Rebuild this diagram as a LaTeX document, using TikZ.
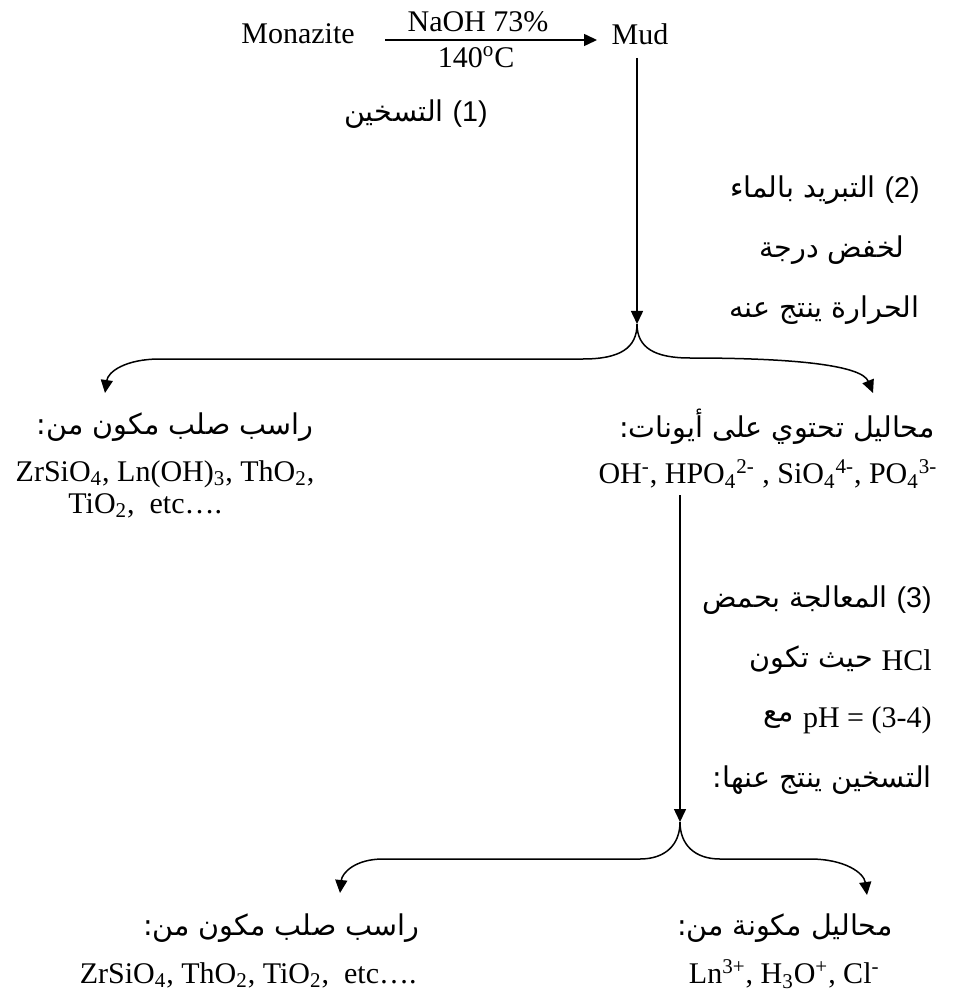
\documentclass[tikz,border=0pt]{standalone}
\usepackage{fontspec}
\setmainfont{Liberation Serif}
\newfontfamily\arabicfont[Script=Arabic]{DejaVu Sans}
\newfontfamily\numfont{Liberation Sans}
\TeXXeTstate=1
\usetikzlibrary{arrows.meta}
\newcommand\mylat{\rmfamily\fontsize{15}{17}\selectfont}
\newcommand\myar{\arabicfont\fontsize{14.3}{16}\selectfont}
\newcommand\mynum{\numfont\fontsize{14.3}{16}\selectfont}
\begin{document}
\begin{tikzpicture}[x=0.5pt,y=-0.5pt,
  lat/.style={inner sep=0pt, font=\mylat},
  ar/.style={inner sep=0pt, font=\myar},
  num/.style={inner sep=0pt, font=\mynum},
  arr/.style={line width=0.75pt, -{Triangle[length=6.5pt,width=6pt]}},
  br/.style={line width=0.75pt, -{Triangle[length=6.5pt,width=6pt]}}]
\useasboundingbox (0,0) rectangle (960,994);
% top reaction
\node[lat] (mon) at (298,34) {Monazite};
\node[lat] (naoh) at (478,22) {NaOH 73\%};
\node[lat] (temp) at (476,57) {140\textsuperscript{o}C};
\node[lat] (mud) at (640,34) {Mud};
\coordinate (a1) at (385,40);
\coordinate (a2) at (597,40);
\draw[arr] (a1) -- (a2);
\node[num,anchor=east] (s1n) at (488,114) {(1)};
\node[ar,anchor=east] (s1) at ([xshift=-4pt]s1n.west) {\beginR التسخين\endR};
% first vertical
\coordinate (v1s) at (637,58);
\coordinate (j1) at (637,324);
\draw[arr] (v1s) -- (j1);
\node[num,anchor=east] (s2n) at (920,190) {(2)};
\node[ar,anchor=east] (s2a) at ([xshift=-4pt]s2n.west) {\beginR التبريد بالماء\endR};
\node[ar,anchor=east] (s2b) at (905,250) {\beginR لخفض درجة\endR};
\node[ar,anchor=east] (s2c) at (920,310) {\beginR الحرارة ينتج عنه\endR};
% first split
\coordinate (t1l) at (105,393);
\coordinate (t1r) at (873,393);
\draw[br] (j1) .. controls (637,348) and (620,359) .. (583,359) -- (160,359)
   .. controls (125,359) and (108,372) .. (t1l);
\draw[br] (j1) .. controls (637,348) and (655,358) .. (690,358)
   .. controls (800,358) and (862,366) .. (t1r);
% left product 1
\node[ar] (p1a) at (175,427) {\beginR راسب صلب مكون من:\endR};
\node[lat] (p1b) at (165,474) {ZrSiO\textsubscript{4}, Ln(OH)\textsubscript{3}, ThO\textsubscript{2},};
\node[lat,anchor=west] (p1c) at (68,506) {TiO\textsubscript{2},\ \ etc\ldots.};
% right product 1
\node[ar,anchor=east] (q1a) at (935,427) {\beginR محاليل تحتوي على أيونات:\endR};
\node[lat] (q1b) at (768,474) {OH\textsuperscript{-}, HPO\textsubscript{4}\textsuperscript{2-} , SiO\textsubscript{4}\textsuperscript{4-}, PO\textsubscript{4}\textsuperscript{3-}};
% second vertical
\coordinate (v2s) at (680,495);
\coordinate (j2) at (680,822);
\draw[arr] (v2s) -- (j2);
\node[num,anchor=east] (s3n) at (932,600) {(3)};
\node[ar,anchor=east] (s3a) at ([xshift=-4pt]s3n.west) {\beginR المعالجة بحمض\endR};
\node[lat,anchor=east] (s3h) at (932,660) {HCl};
\node[ar,anchor=east] (s3b) at ([xshift=-4pt]s3h.west) {\beginR حيث تكون\endR};
\node[lat,anchor=east] (s3c) at (932,720) {pH = (3-4)};
\node[ar,anchor=east] (s3m) at ([xshift=-4pt]s3c.west) {\beginR مع\endR};
\node[ar,anchor=east] (s3d) at (932,780) {\beginR التسخين ينتج عنها:\endR};
% second split
\coordinate (t2l) at (340,893);
\coordinate (t2r) at (867,895);
\draw[br] (j2) .. controls (680,845) and (665,859) .. (640,859) -- (383,859)
   .. controls (355,859) and (342,873) .. (t2l);
\draw[br] (j2) .. controls (680,845) and (695,859) .. (720,859) -- (810,859)
   .. controls (845,859) and (864,873) .. (t2r);
% bottom products
\node[ar,anchor=east] (p2a) at (420,928) {\beginR راسب صلب مكون من:\endR};
\node[lat,anchor=east] (p2b) at (417,975) {ZrSiO\textsubscript{4}, ThO\textsubscript{2}, TiO\textsubscript{2},\ \ etc\ldots.};
\node[ar,anchor=east] (q2a) at (893,928) {\beginR محاليل مكونة من:\endR};
\node[lat,anchor=east] (q2b) at (880,974) {Ln\textsuperscript{3+}, H\textsubscript{3}O\textsuperscript{+}, Cl\textsuperscript{-}};
\end{tikzpicture}
\end{document}
